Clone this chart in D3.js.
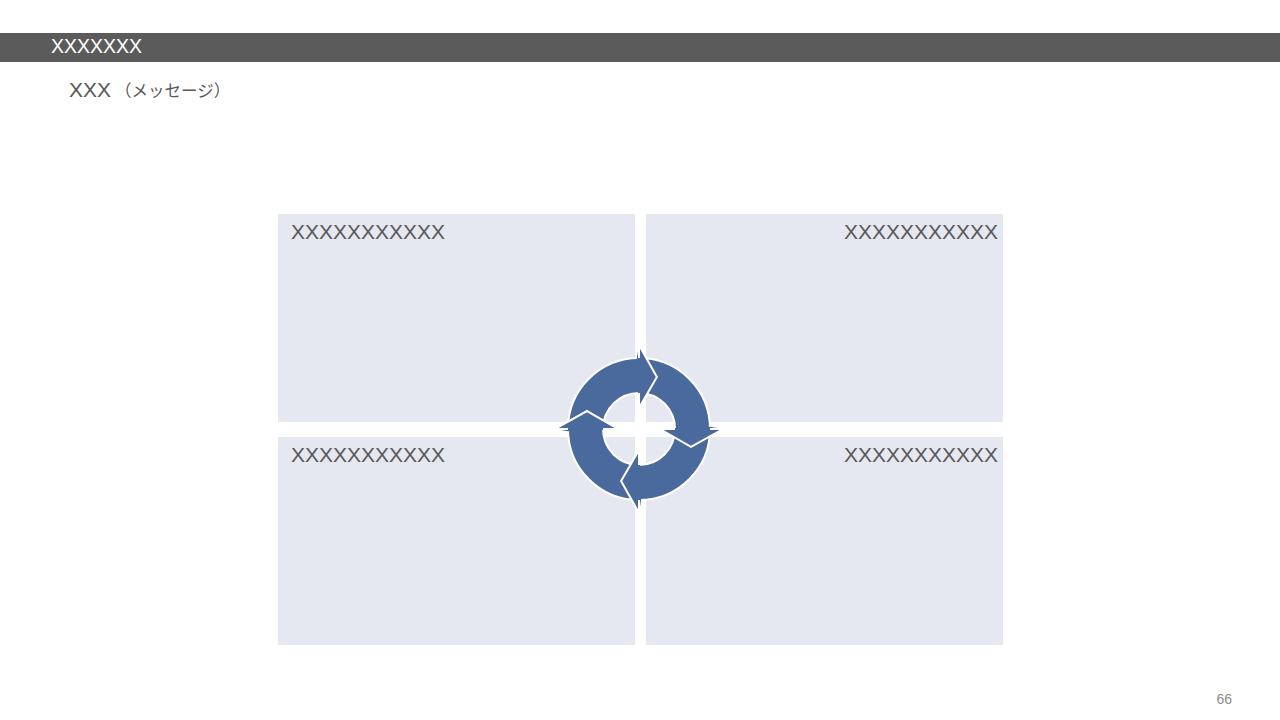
<!DOCTYPE html>
<html>
<head>
<meta charset="utf-8">
<script src="https://cdn.jsdelivr.net/npm/d3@7"></script>
<style>
  html, body { margin: 0; padding: 0; background: #fff; }
  svg { display: block; }
</style>
</head>
<body>
<svg id="chart" width="1280" height="720"></svg>
<script>
// slide texts
const headerTitle = "XXXXXXX";
const messageMain = "XXX";
const messageSub = "（メッセージ）";
const pageNumber = "66";

// four quadrant panels
const panelRows = ["top", "bottom"];
const panelCols = ["left", "right"];
const panelLabels = ["XXXXXXXXXXX", "XXXXXXXXXXX", "XXXXXXXXXXX", "XXXXXXXXXXX"];

// cycle steps, one arrow each, clockwise from 9 o'clock
const cycleSteps = ["step1", "step2", "step3", "step4"];

const W = 1280, H = 720;
const LATIN = "'Liberation Sans', Arial, sans-serif";
const JP = "'Noto Sans CJK JP', 'Liberation Sans', sans-serif";
const ARROW = "#4a699c";
const PANEL = "#e5e8f0";
const TEXT = "#595959";

const svg = d3.select("#chart");

// header bar
svg.append("rect")
  .attr("x", 0).attr("y", 33)
  .attr("width", W).attr("height", 29)
  .attr("fill", "#5b5b5b");

svg.append("text")
  .attr("x", 51).attr("y", 53)
  .attr("fill", "#fff")
  .style("font-family", LATIN)
  .style("font-size", "19.5px")
  .text(headerTitle);

const msg = svg.append("text")
  .attr("x", 69).attr("y", 97)
  .attr("fill", TEXT)
  .style("font-family", LATIN)
  .style("font-size", "21px");
msg.append("tspan").text(messageMain);
msg.append("tspan")
  .attr("dx", 4)
  .style("font-family", JP)
  .style("font-size", "16.5px")
  .text(messageSub);

// panels
const xBand = d3.scaleBand().domain(panelCols).range([278, 1003]).paddingInner(0.0299);
const yBand = d3.scaleBand().domain(panelRows).range([214, 645]).paddingInner(0.067);

const panels = svg.selectAll("g.panel")
  .data(panelLabels)
  .join("g")
  .attr("class", "panel")
  .attr("transform", (d, i) => `translate(${xBand(panelCols[i % 2])},${yBand(panelRows[Math.floor(i / 2)])})`);

panels.append("rect")
  .attr("width", xBand.bandwidth())
  .attr("height", yBand.bandwidth())
  .attr("fill", PANEL);

panels.append("text")
  .attr("x", (d, i) => i % 2 === 0 ? 13 : xBand.bandwidth() - 5)
  .attr("y", 25)
  .attr("text-anchor", (d, i) => i % 2 === 0 ? "start" : "end")
  .attr("fill", TEXT)
  .style("font-family", LATIN)
  .style("font-size", "21px")
  .text(d => d);

// cycle arrows
const cx = 639, cy = 429;
const rScale = d3.scaleLinear().domain([0, 1]).range([36, 71]); // inner..outer ring
const barbIn = 21, barbOut = 84, tipR = 55;
const headAngle = 19 * Math.PI / 180;
const angle = d3.scaleLinear().domain([0, cycleSteps.length]).range([-Math.PI / 2, 1.5 * Math.PI]);

// d3 convention: 0 at 12 o'clock, clockwise
const pt = (r, a) => [r * Math.sin(a), -r * Math.cos(a)];

function arrowPath(i) {
  const a0 = angle(i), a1 = angle(i + 1);
  const rIn = rScale(0), rOut = rScale(1);
  const p = d3.path();
  p.moveTo(...pt(rOut, a0));
  p.arc(0, 0, rOut, a0 - Math.PI / 2, a1 - Math.PI / 2, false);
  p.lineTo(...pt(barbOut, a1));
  p.lineTo(...pt(tipR, a1 + headAngle));
  p.lineTo(...pt(barbIn, a1));
  p.lineTo(...pt(rIn, a1));
  p.arc(0, 0, rIn, a1 - Math.PI / 2, a0 - Math.PI / 2, true);
  p.closePath();
  return p.toString();
}

function headFill(i) {
  const a1 = angle(i + 1);
  return d3.line()([pt(rScale(0), a1 - 0.03), pt(rScale(1), a1 - 0.03), pt(barbOut, a1),
    pt(tipR, a1 + headAngle), pt(barbIn, a1)]) + "Z";
}

function headEdge(i) {
  const a1 = angle(i + 1);
  return d3.line()([pt(rScale(1), a1), pt(barbOut, a1), pt(tipR, a1 + headAngle),
    pt(barbIn, a1), pt(rScale(0), a1)]);
}

const cycle = svg.append("g").attr("transform", `translate(${cx},${cy})`);

cycle.selectAll("path.arrow")
  .data(cycleSteps)
  .join("path")
  .attr("class", "arrow")
  .attr("d", (d, i) => arrowPath(i))
  .attr("fill", ARROW)
  .attr("stroke", "#fff")
  .attr("stroke-width", 2)
  .attr("stroke-linejoin", "miter");

// each head sits over the next arrow's tail
cycle.selectAll("path.head")
  .data(cycleSteps)
  .join("path")
  .attr("class", "head")
  .attr("d", (d, i) => headFill(i))
  .attr("fill", ARROW);

cycle.selectAll("path.edge")
  .data(cycleSteps)
  .join("path")
  .attr("class", "edge")
  .attr("d", (d, i) => headEdge(i))
  .attr("fill", "none")
  .attr("stroke", "#fff")
  .attr("stroke-width", 2);

// page number
svg.append("text")
  .attr("x", 1232).attr("y", 704)
  .attr("text-anchor", "end")
  .attr("fill", "#8c8c8c")
  .style("font-family", LATIN)
  .style("font-size", "14px")
  .text(pageNumber);
</script>
</body>
</html>
